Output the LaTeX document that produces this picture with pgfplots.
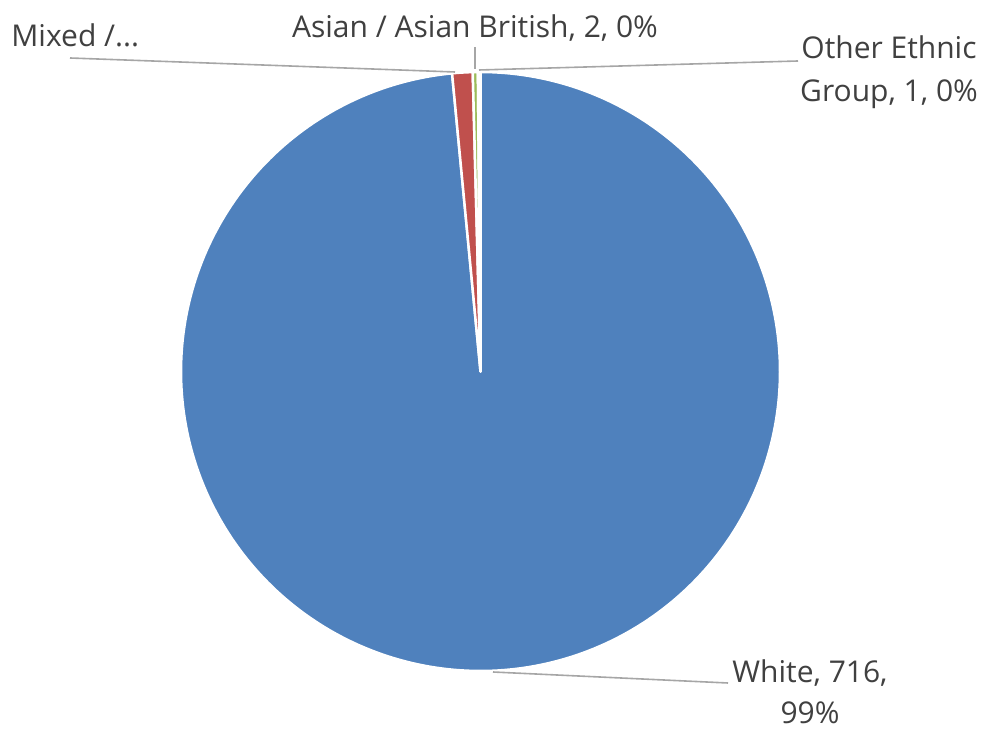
\documentclass[border=0pt]{standalone}
\usepackage{fontspec}
\setmainfont{Open Sans}
\usepackage{pgfplots}
\usepackage{pgfplotstable}
\pgfplotsset{compat=1.18}
\definecolor{pieblue}{HTML}{4F81BD}
\definecolor{piered}{HTML}{C0504D}
\definecolor{piegreen}{HTML}{9BBB59}
\definecolor{piepurple}{HTML}{8064A2}
\definecolor{txt}{HTML}{404040}
\definecolor{leader}{HTML}{A6A6A6}
\tikzset{lbl/.style={font=\fontsize{15}{18}\selectfont, text=txt, inner sep=0pt}}

\pgfplotstableread{
label value
White 716
Mixed 8
Asian 2
Other 1
}\piedata

\begin{document}%
\begin{tikzpicture}
\pgfplotstablegetelem{0}{value}\of\piedata \let\vA\pgfplotsretval
\pgfplotstablegetelem{1}{value}\of\piedata \let\vB\pgfplotsretval
\pgfplotstablegetelem{2}{value}\of\piedata \let\vC\pgfplotsretval
\pgfplotstablegetelem{3}{value}\of\piedata \let\vD\pgfplotsretval
\pgfmathsetmacro\total{\vA+\vB+\vC+\vD}
\pgfmathsetmacro\aA{90-(\vA/\total)*360}
\pgfmathsetmacro\aB{\aA-(\vB/\total)*360}
\pgfmathsetmacro\aC{\aB-(\vC/\total)*360}
\pgfmathsetmacro\aD{\aC-(\vD/\total)*360}
\begin{axis}[
  scale only axis, width=492pt, height=364pt,
  xmin=0, xmax=984, ymin=0, ymax=728,
  hide axis, clip=false,
]
\path (axis cs:0,0) rectangle (axis cs:984,728);
\addplot[fill=pieblue, draw=white, line width=1.25pt, line join=round, domain=\aA:90, samples=300, variable=\t]
  ({480.5+299.5*cos(\t)},{356.5+299.5*sin(\t)}) -- (axis cs:480.5,356.5) -- cycle;
\addplot[fill=piered, draw=white, line width=1.25pt, line join=round, domain=\aB:\aA, samples=20, variable=\t]
  ({480.5+299.5*cos(\t)},{356.5+299.5*sin(\t)}) -- (axis cs:480.5,356.5) -- cycle;
\addplot[fill=piegreen, draw=white, line width=1.25pt, line join=round, domain=\aC:\aB, samples=10, variable=\t]
  ({480.5+299.5*cos(\t)},{356.5+299.5*sin(\t)}) -- (axis cs:480.5,356.5) -- cycle;
\addplot[fill=piepurple, draw=white, line width=1.25pt, line join=round, domain=\aD:\aC, samples=10, variable=\t]
  ({480.5+299.5*cos(\t)},{356.5+299.5*sin(\t)}) -- (axis cs:480.5,356.5) -- cycle;

\draw[leader, line width=0.8pt] (axis cs:70,670) -- (axis cs:455,656);
\draw[leader, line width=0.8pt] (axis cs:475,681) -- (axis cs:475,659);
\draw[leader, line width=0.8pt] (axis cs:479,658) -- (axis cs:798,667);
\draw[leader, line width=0.8pt] (axis cs:493,56) -- (axis cs:728,45);

\node[lbl, anchor=base west] at (axis cs:11,681) {Mixed /...};
\node[lbl, anchor=base] at (axis cs:475,690) {Asian / Asian British, 2, 0\%};
\node[lbl, anchor=base] at (axis cs:889,669) {Other Ethnic};
\node[lbl, anchor=base] at (axis cs:889,626) {Group, 1, 0\%};
\node[lbl, anchor=base] at (axis cs:810,46) {White, 716,};
\node[lbl, anchor=base] at (axis cs:810,5) {99\%};
\end{axis}
\end{tikzpicture}%
\end{document}
